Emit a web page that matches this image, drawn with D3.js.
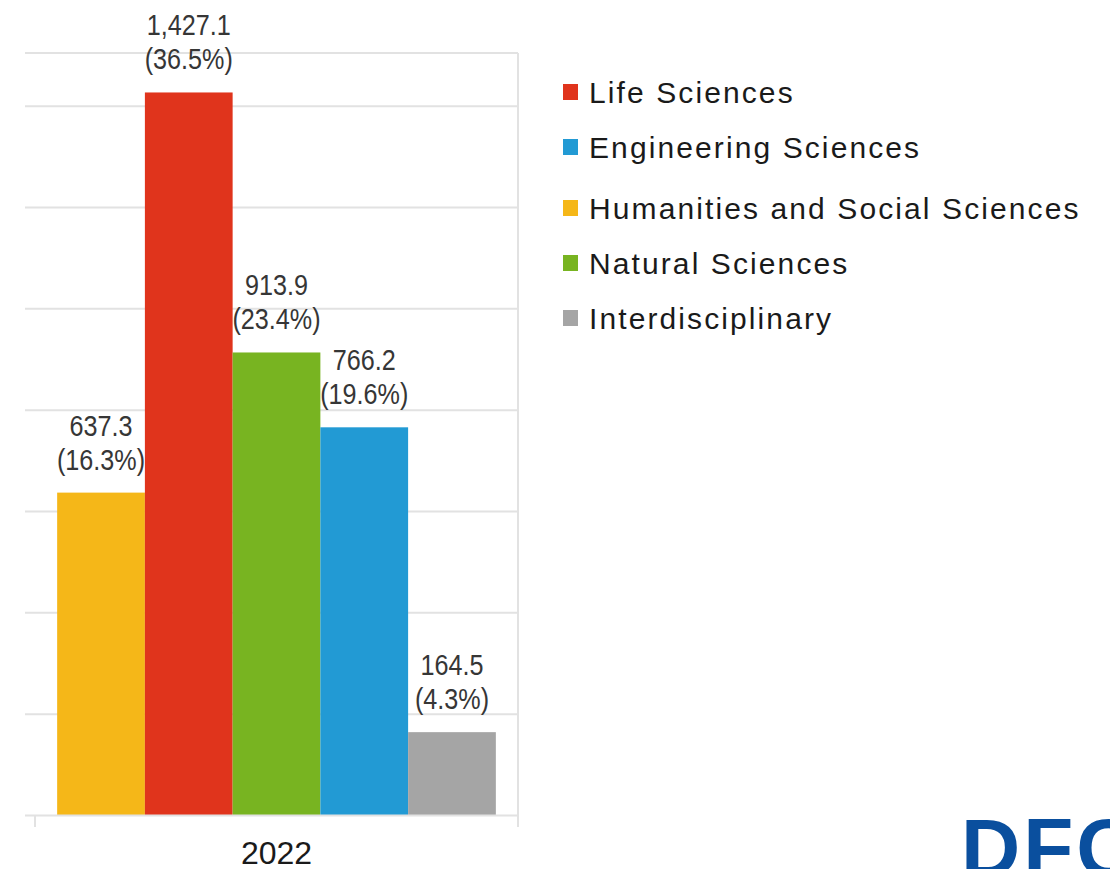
<!DOCTYPE html>
<html>
<head>
<meta charset="utf-8">
<script src="https://cdn.jsdelivr.net/npm/d3@7/dist/d3.min.js"></script>
<style>
  html, body { margin: 0; padding: 0; background: #ffffff; }
  svg { display: block; }
</style>
</head>
<body>
<svg id="chart" width="1110" height="869"></svg>
<script>
// ---- data ----
const years = ["2022"];
const categories = ["Humanities and Social Sciences", "Life Sciences", "Natural Sciences", "Engineering Sciences", "Interdisciplinary"];
const values = [637.3, 1427.1, 913.9, 766.2, 164.5];
const valueLabels = ["637.3", "1,427.1", "913.9", "766.2", "164.5"];
const shareLabels = ["(16.3%)", "(36.5%)", "(23.4%)", "(19.6%)", "(4.3%)"];
const colors = ["#F5B718", "#E0341C", "#78B421", "#229AD4", "#A5A5A5"];
const legendOrder = ["Life Sciences", "Engineering Sciences", "Humanities and Social Sciences", "Natural Sciences", "Interdisciplinary"];
const yTicks = [0, 200, 400, 600, 800, 1000, 1200, 1400];
const yMax = 1505;

// ---- drawing ----
const svg = d3.select("#chart");
const color = d3.scaleOrdinal(categories, colors);

const y = d3.scaleLinear().domain([0, yMax]).range([815.5, 53]);
const x0 = d3.scaleBand().domain(years).range([35, 518]).paddingInner(0).paddingOuter(0.0505);
const x1 = d3.scaleBand().domain(categories).range([0, x0.bandwidth()]).padding(0);

const gridColor = "#E2E2E2";

// gridlines
svg.append("g")
  .selectAll("line")
  .data(yTicks.slice(1).concat([yMax]))
  .join("line")
  .attr("x1", 25).attr("x2", 518)
  .attr("y1", d => y(d)).attr("y2", d => y(d))
  .attr("stroke", gridColor).attr("stroke-width", 2);

// right border / category boundary
svg.append("line")
  .attr("x1", 518).attr("x2", 518)
  .attr("y1", y(yMax)).attr("y2", 827)
  .attr("stroke", gridColor).attr("stroke-width", 2);

// bars
const group = svg.append("g").attr("transform", `translate(${x0("2022")},0)`);
group.selectAll("rect")
  .data(categories.map((c, i) => ({c, v: values[i], i})))
  .join("rect")
  .attr("x", d => x1(d.c))
  .attr("width", x1.bandwidth())
  .attr("y", d => y(d.v))
  .attr("height", d => y(0) - y(d.v))
  .attr("fill", d => color(d.c));

// x axis baseline & tick
svg.append("line")
  .attr("x1", 25).attr("x2", 518)
  .attr("y1", y(0)).attr("y2", y(0))
  .attr("stroke", gridColor).attr("stroke-width", 2);
svg.append("line")
  .attr("x1", 35).attr("x2", 35)
  .attr("y1", y(0)).attr("y2", 827)
  .attr("stroke", gridColor).attr("stroke-width", 2);

// value labels (condensed look via horizontal scale)
const labelFont = "'Liberation Sans', Arial, sans-serif";
const lbl = group.selectAll("g.lbl")
  .data(categories.map((c, i) => ({c, v: values[i], i})))
  .join("g").attr("class", "lbl")
  .attr("transform", d => `translate(${x1(d.c) + x1.bandwidth() / 2},${y(d.v)}) scale(0.84,1)`);
lbl.append("text")
  .attr("x", 0)
  .attr("y", -57)
  .attr("text-anchor", "middle")
  .attr("font-family", labelFont).attr("font-size", 30)
  .attr("fill", "#363636")
  .text(d => valueLabels[d.i]);
lbl.append("text")
  .attr("x", 0)
  .attr("y", -23)
  .attr("text-anchor", "middle")
  .attr("font-family", labelFont).attr("font-size", 30)
  .attr("fill", "#363636")
  .text(d => shareLabels[d.i]);

// x axis label
svg.append("g")
  .selectAll("text")
  .data(years)
  .join("text")
  .attr("x", d => x0(d) + x0.bandwidth() / 2)
  .attr("y", 864)
  .attr("text-anchor", "middle")
  .attr("font-family", "'Liberation Sans', Arial, sans-serif")
  .attr("font-size", 32)
  .attr("fill", "#1a1a1a")
  .text(d => d);

// legend
const legend = svg.append("g").attr("transform", "translate(563,0)");
const legItems = legend.selectAll("g")
  .data(legendOrder)
  .join("g")
  .attr("transform", (d, i) => `translate(0,${92 + i * 55 + (i >= 2 ? 6 : 0)})`);
legItems.append("rect")
  .attr("x", 0).attr("y", -8)
  .attr("width", 15).attr("height", 16)
  .attr("fill", d => color(d));
legItems.append("text")
  .attr("x", 26).attr("y", 11)
  .attr("font-family", "'Liberation Sans', Arial, sans-serif")
  .attr("font-size", 30)
  .attr("letter-spacing", 2.1)
  .attr("fill", "#1a1a1a")
  .text(d => d);

// DFG logo (text)
svg.append("text")
  .attr("x", 961).attr("y", 876)
  .attr("font-family", "'Liberation Sans', Arial, sans-serif")
  .attr("font-weight", "bold")
  .attr("font-size", 82)
  .attr("letter-spacing", 3)
  .attr("fill", "#0A4F9E")
  .text("DFG");
</script>
</body>
</html>
